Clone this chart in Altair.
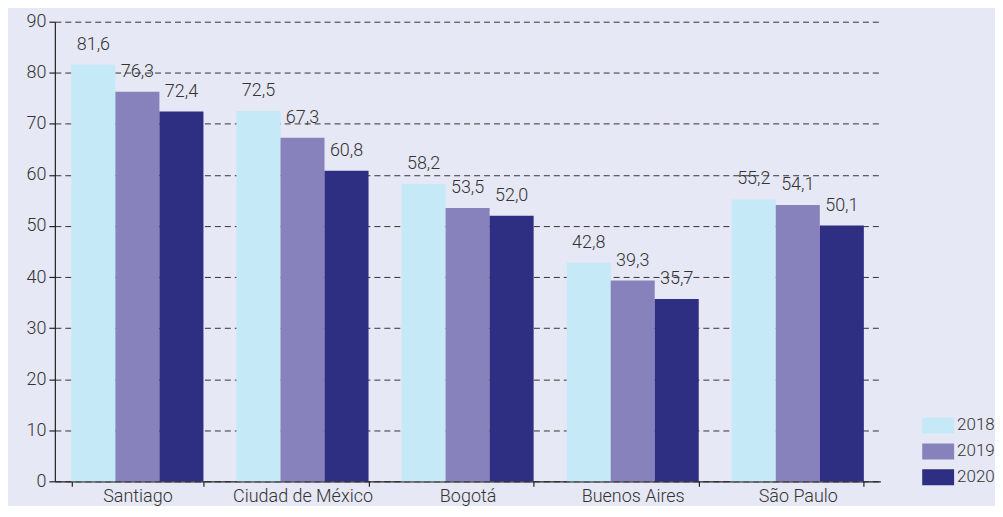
import altair as alt
import pandas as pd

cities = ["Santiago", "Ciudad de México", "Bogotá", "Buenos Aires", "São Paulo"]
years = ["2018", "2019", "2020"]
v2018 = [81.6, 72.5, 58.2, 42.8, 55.2]
v2019 = [76.3, 67.3, 53.5, 39.3, 54.1]
v2020 = [72.4, 60.8, 52.0, 35.7, 50.1]
colors = ["#c6e9f8", "#8782bc", "#2e2e82"]

rows = []
for i, c in enumerate(cities):
    for y, vals in zip(years, [v2018, v2019, v2020]):
        rows.append({"city": c, "year": y, "value": vals[i],
                     "label": f"{vals[i]:.1f}".replace(".", ",")})
df = pd.DataFrame(rows)

FONT = "Roboto"
FS = 18
FW = 300
TXT = "#333333"

x = alt.X("city:N", sort=cities, title=None,
          scale=alt.Scale(paddingInner=0.2, paddingOuter=0.1),
          axis=alt.Axis(labelAngle=0, tickBand="extent", domainColor="#222",
                        tickColor="#222", tickSize=5, labelFontSize=FS,
                        labelFontWeight=FW, labelColor=TXT, labelFont=FONT,
                        labelPadding=1, domainWidth=1.2, tickWidth=1.2,
                        grid=False))
xo = alt.XOffset("year:N", sort=years)

bars = alt.Chart(df).mark_bar().encode(
    x=x, xOffset=xo,
    y=alt.Y("value:Q", title=None,
            scale=alt.Scale(domain=[0, 90]),
            axis=alt.Axis(values=list(range(0, 91, 10)), domainColor="#222",
                          tickColor="#222", tickSize=6, labelFontSize=FS,
                          labelFontWeight=FW, labelColor=TXT, labelFont=FONT,
                          labelPadding=3, domainWidth=1.2, tickWidth=1.2,
                          gridDash=[6, 4], gridColor="#333", gridWidth=1)),
    color=alt.Color("year:N", sort=years,
                    scale=alt.Scale(domain=years, range=colors),
                    legend=alt.Legend(title=None, orient="none", legendX=870,
                                      legendY=389,
                                      symbolType="M-1,-0.5H1V0.5H-1Z",
                                      symbolSize=1024, symbolStrokeWidth=0,
                                      labelFontSize=17, labelFontWeight=FW,
                                      labelColor=TXT, labelFont=FONT,
                                      rowPadding=2, labelOffset=3,
                                      padding=0)),
)

text = alt.Chart(df).mark_text(dy=-15, baseline="alphabetic", fontSize=FS,
                               fontWeight=FW, color=TXT, font=FONT).encode(
    x=x, xOffset=xo, y="value:Q", text="label:N")

chart = (bars + text).properties(
    width=828, height=461, background="#e6e8f5",
    padding={"left": 18, "top": 4, "right": 0, "bottom": 0}
).configure_view(stroke=None)

chart.save("out.html", embed_options={"renderer": "svg", "actions": False})
